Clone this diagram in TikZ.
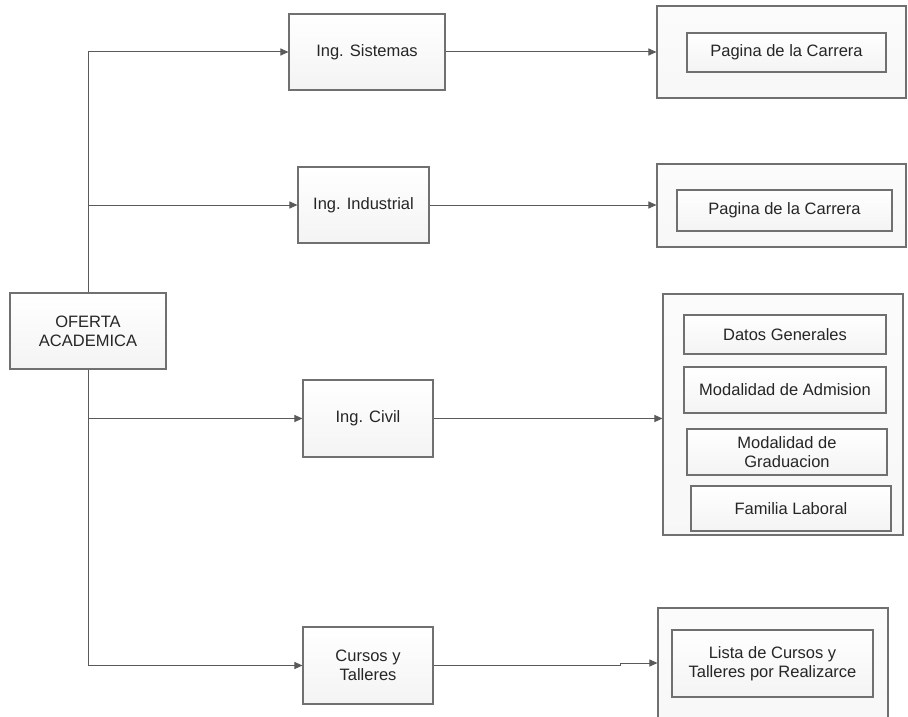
\documentclass[tikz,border=0pt]{standalone}
\usepackage{fontspec}
\setmainfont{Liberation Sans}
\usetikzlibrary{arrows.meta,shadows}

\definecolor{linegray}{HTML}{5A5A5A}
\definecolor{boxgray}{HTML}{707070}

\tikzset{
  box/.style={draw=boxgray, line width=1.1pt, top color=white, bottom color=gray!9,
    drop shadow={shadow xshift=1.2pt, shadow yshift=-1.2pt, fill=gray!40, opacity=0.4},
    align=center, inner sep=0pt, font=\fontsize{16.5}{19}\selectfont, text=black!85},
  outer/.style={box, top color=gray!3, bottom color=gray!6},
  link/.style={draw=linegray, line width=1pt, -{Triangle[length=8pt,width=7pt]}}
}

\begin{document}
\begin{tikzpicture}[x=1pt,y=-1pt]
\useasboundingbox (0,0) rectangle (908,717);

% left column
\node[box, minimum width=156, minimum height=76] (oferta) at (88,331) {OFERTA\\ACADEMICA};

% careers
\node[box, minimum width=156, minimum height=76] (sis) at (367,52) {Ing. Sistemas};
\node[box, minimum width=131, minimum height=76] (ind) at (363.5,205) {Ing. Industrial};
\node[box, minimum width=130, minimum height=77] (civ) at (368,418.5) {Ing. Civil};
\node[box, minimum width=130, minimum height=77] (cur) at (368,665.5) {Cursos y\\Talleres};

% containers on the right
\node[outer, minimum width=249, minimum height=92] (out1) at (781.5,52) {};
\node[box, minimum width=199, minimum height=39] (pag1) at (786.5,52.5) {Pagina de la Carrera};

\node[outer, minimum width=249, minimum height=83] (out2) at (781.5,205.5) {};
\node[box, minimum width=215, minimum height=41] (pag2) at (784.5,210.5) {Pagina de la Carrera};

\node[outer, minimum width=240, minimum height=241] (out3) at (783,414.5) {};
\node[box, minimum width=202, minimum height=39] (datos) at (785,334.5) {Datos Generales};
\node[box, minimum width=202, minimum height=46] (adm) at (785,390) {Modalidad de Admision};
\node[box, minimum width=200, minimum height=46] (grad) at (787,452) {Modalidad de\\Graduacion};
\node[box, minimum width=200, minimum height=45] (fam) at (791,508.5) {Familia Laboral};

\node[outer, minimum width=230, minimum height=117] (out4) at (773,666.5) {};
\node[box, minimum width=201, minimum height=67] (lista) at (772.5,663.5) {Lista de Cursos y\\Talleres por Realizarce};

% trunk and branches
\draw[link] (oferta.north) |- (sis.west);
\draw[link] (oferta.north) |- (ind.west);
\draw[link] (oferta.south) |- (civ.west);
\draw[link] (oferta.south) |- (cur.west);

% to the details
\draw[link] (sis.east) -- (sis.east -| out1.west);
\draw[link] (ind.east) -- (ind.east -| out2.west);
\draw[link] (civ.east) -- (civ.east -| out3.west);
\coordinate (jog) at (620,663);
\draw[link] (cur.east) -- (cur.east -| jog) -- (jog) -- (jog -| out4.west);
\end{tikzpicture}
\end{document}
